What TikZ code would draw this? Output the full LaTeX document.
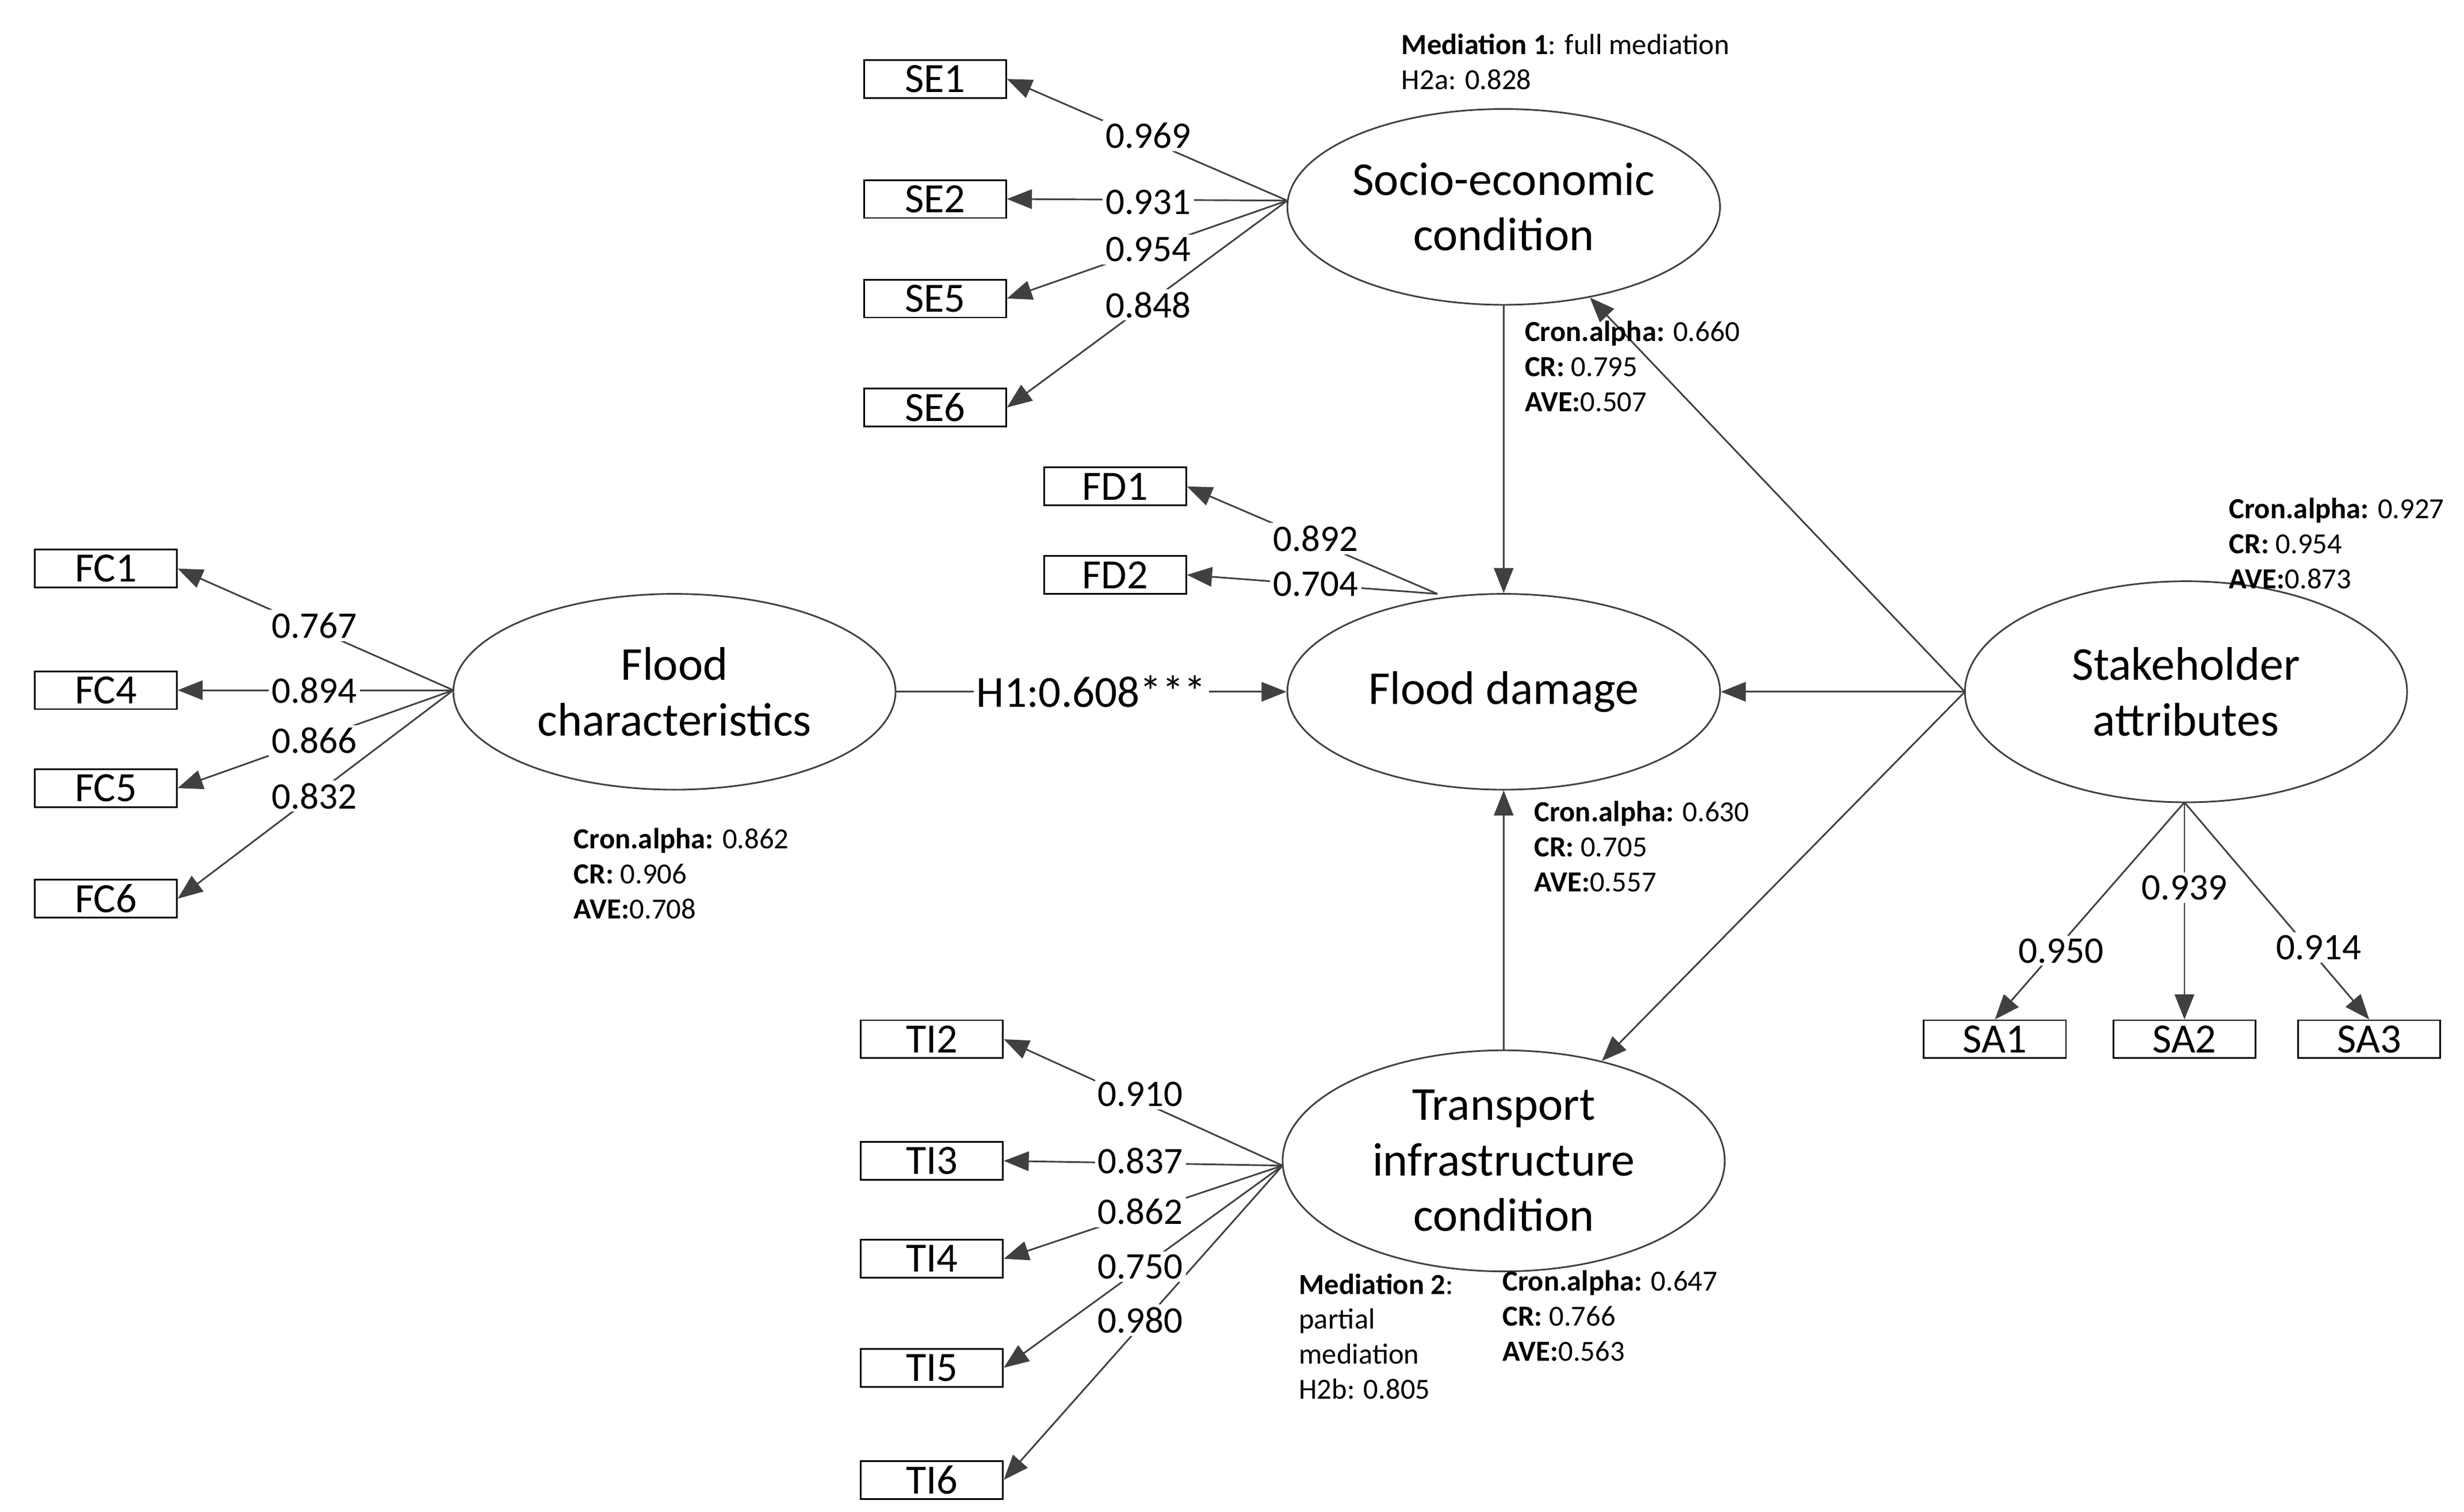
\documentclass[tikz,border=0pt]{standalone}
\usepackage{fontspec}
\setmainfont{Carlito}
\usetikzlibrary{arrows.meta,shapes.geometric}
\begin{document}
\begin{tikzpicture}[x=0.02cm,y=-0.02cm,
 lat/.style={draw=black!75,ellipse,line width=0.6pt,font=\fontsize{17}{20}\selectfont,align=center,inner sep=0pt},
 box/.style={draw=black,line width=0.6pt,minimum width=1.8cm,minimum height=0.48cm,inner sep=0pt,font=\fontsize{15}{17}\selectfont},
 ar/.style={draw=black!75,line width=0.6pt,-{Triangle[length=9pt,width=7pt]}},
 ld/.style={font=\fontsize{13.5}{15}\selectfont,fill=white,inner sep=1pt},
 st/.style={font=\fontsize{10.5}{12.6}\selectfont,anchor=north west,align=left,inner sep=0pt}]
\useasboundingbox (0,0) rectangle (1560,957);
\node[lat,minimum width=5.48cm,minimum height=2.48cm] (SE) at (952,131) {Socio-economic\\condition};
\node[lat,minimum width=5.48cm,minimum height=2.48cm] (FD) at (952,438) {Flood damage};
\node[lat,minimum width=5.6cm,minimum height=2.48cm] (FC) at (427,438) {Flood\\characteristics};
\node[lat,minimum width=5.6cm,minimum height=2.8cm] (TI) at (952,735) {Transport\\infrastructure\\condition};
\node[lat,minimum width=5.6cm,minimum height=2.8cm] (SA) at (1384,438) {Stakeholder\\attributes};
\foreach \n/\x/\y in {SE1/592/50,SE2/592/126,SE5/592/189,SE6/592/258,FD1/706/308,FD2/706/364,FC1/67/360,FC4/67/437,FC5/67/499,FC6/67/569,TI2/590/658,TI3/590/735,TI4/590/797,TI5/590/866,TI6/590/937,SA1/1263/658,SA2/1383/658,SA3/1500/658}
  \node[box] (\n) at (\x,\y) {\n};
\coordinate (se) at (815,127);
\coordinate (fc) at (287,437);
\coordinate (ti) at (812,738);
\coordinate (fd) at (910,376);
\coordinate (sa) at (1244,438);
\coordinate (sab) at (1383,508);
\foreach \n in {SE1,SE2,SE5,SE6} \draw[ar] (se) -- (\n.east);
\foreach \n in {FD1,FD2} \draw[ar] (fd) -- (\n.east);
\foreach \n in {FC1,FC4,FC5,FC6} \draw[ar] (fc) -- (\n.east);
\foreach \n in {TI2,TI3,TI4,TI5,TI6} \draw[ar] (ti) -- (\n.east);
\foreach \n in {SA1,SA2,SA3} \draw[ar] (sab) -- (\n.north);
\draw[ar] (SE) -- (FD);
\draw[ar] (TI) -- (FD);
\draw[ar] (sa) -- (SE);
\draw[ar] (sa) -- (TI);
\draw[ar] (sa) -- (FD);
\draw[ar] (FC) -- node[ld,font=\fontsize{16}{18}\selectfont]{H1:0.608***} (FD);
\foreach \t/\x/\y in {0.969/727/86,0.931/727/128,0.954/727/158,0.848/727/193,0.892/833/341,0.704/833/370,0.767/199/396,0.894/199/437,0.866/199/469,0.832/199/504,0.910/722/693,0.837/722/735,0.862/722/767,0.750/722/802,0.980/722/836,0.950/1305/602,0.939/1383/562,0.914/1468/600}
  \node[ld] at (\x,\y) {\t};
\node[st] at (887,21) {\textbf{Mediation 1}: full mediation\\H2a: 0.828};
\node[st] at (965,203) {\textbf{Cron.alpha:} 0.660\\\textbf{CR:} 0.795\\\textbf{AVE:}0.507};
\node[st] at (1411,315) {\textbf{Cron.alpha:} 0.927\\\textbf{CR:} 0.954\\\textbf{AVE:}0.873};
\node[st] at (363,524) {\textbf{Cron.alpha:} 0.862\\\textbf{CR:} 0.906\\\textbf{AVE:}0.708};
\node[st] at (971,507) {\textbf{Cron.alpha:} 0.630\\\textbf{CR:} 0.705\\\textbf{AVE:}0.557};
\node[st] at (951,804) {\textbf{Cron.alpha:} 0.647\\\textbf{CR:} 0.766\\\textbf{AVE:}0.563};
\node[st] at (822,806) {\textbf{Mediation 2}:\\partial\\mediation\\H2b: 0.805};
\end{tikzpicture}
\end{document}
